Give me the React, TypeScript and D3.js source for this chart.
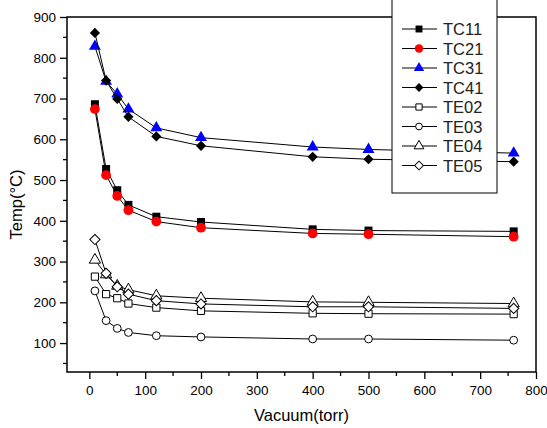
import React, { useEffect, useRef } from 'react';
import * as d3 from 'd3';

// vacuum levels (torr)
const vacuum = [10, 30, 50, 70, 120, 200, 400, 500, 760];

const seriesNames = ['TC11', 'TC21', 'TC31', 'TC41', 'TE02', 'TE03', 'TE04', 'TE05'];

const tc11 = [686, 527, 475, 439, 410, 397, 379, 376, 374];
const tc21 = [674, 512, 461, 426, 398, 383, 369, 367, 361];
const tc31 = [828, 742, 711, 674, 628, 604, 581, 575, 566];
const tc41 = [861, 744, 699, 655, 607, 584, 557, 551, 545];
const te02 = [263, 220, 210, 197, 187, 179, 173, 172, 171];
const te03 = [228, 155, 136, 126, 118, 115, 110, 110, 107];
const te04 = [304, 268, 240, 231, 216, 210, 201, 200, 197];
const te05 = [354, 271, 238, 220, 204, 196, 189, 189, 185];

const xTicks = [0, 100, 200, 300, 400, 500, 600, 700, 800];
const yTicks = [100, 200, 300, 400, 500, 600, 700, 800, 900];

const allSeries = [tc11, tc21, tc31, tc41, te02, te03, te04, te05];

// marker style per series (diamonds are squares turned 45deg)
const markers = [
  { shape: d3.symbolSquare, size: 64, fill: '#000', rot: 0 },
  { shape: d3.symbolCircle, size: 75, fill: '#ff0000', rot: 0 },
  { shape: d3.symbolTriangle, size: 62, fill: '#0000ff', rot: 0 },
  { shape: d3.symbolSquare, size: 52, fill: '#000', rot: 45 },
  { shape: d3.symbolSquare, size: 52, fill: '#fff', rot: 0 },
  { shape: d3.symbolCircle, size: 48, fill: '#fff', rot: 0 },
  { shape: d3.symbolTriangle, size: 55, fill: '#fff', rot: 0 },
  { shape: d3.symbolSquare, size: 52, fill: '#fff', rot: 45 },
];

const App = () => {
  const svgRef = useRef(null);

  useEffect(() => {
    const svg = d3.select(svgRef.current);
    svg.selectAll('*').remove();

    const left = 67, right = 536, top = 17, bottom = 372;
    const font = 'Arial, "Liberation Sans", sans-serif';

    const x = d3.scaleLinear().domain([-40, 800]).range([left, right]);
    const y = d3.scaleLinear().domain([29, 900]).range([bottom, top]);

    // frame
    svg.append('rect')
      .attr('x', left).attr('y', top)
      .attr('width', right - left).attr('height', bottom - top)
      .attr('fill', 'none').attr('stroke', '#000').attr('stroke-width', 1.5);

    // x axis
    const xAxis = svg.append('g').attr('transform', `translate(0,${bottom})`);
    xAxis.call(d3.axisBottom(x).tickValues(xTicks).tickSize(7).tickSizeOuter(0))
      .call(g => g.select('.domain').remove())
      .call(g => g.selectAll('line').attr('stroke-width', 1.3))
      .call(g => g.selectAll('text').attr('font-size', 13.5).attr('font-family', font).attr('dy', '0.95em').attr('fill', '#000'));
    xAxis.selectAll('.minor')
      .data(d3.range(50, 800, 100))
      .enter().append('line')
      .attr('x1', d => x(d)).attr('x2', d => x(d))
      .attr('y1', 0).attr('y2', 4)
      .attr('stroke', '#000').attr('stroke-width', 1.3);

    // y axis
    const yAxis = svg.append('g').attr('transform', `translate(${left},0)`);
    yAxis.call(d3.axisLeft(y).tickValues(yTicks).tickSize(7).tickSizeOuter(0))
      .call(g => g.select('.domain').remove())
      .call(g => g.selectAll('line').attr('stroke-width', 1.3))
      .call(g => g.selectAll('text').attr('font-size', 13.5).attr('font-family', font).attr('x', -11).attr('fill', '#000'));
    yAxis.selectAll('.minor')
      .data(d3.range(50, 900, 100))
      .enter().append('line')
      .attr('y1', d => y(d)).attr('y2', d => y(d))
      .attr('x1', 0).attr('x2', -4)
      .attr('stroke', '#000').attr('stroke-width', 1.3);

    // axis titles
    svg.append('text')
      .attr('x', (left + right) / 2).attr('y', 421)
      .attr('text-anchor', 'middle')
      .attr('font-size', 16.5).attr('font-family', font)
      .text('Vacuum(torr)');
    svg.append('text')
      .attr('transform', `translate(22,${(top + bottom) / 2 + 10}) rotate(-90)`)
      .attr('text-anchor', 'middle')
      .attr('font-size', 16.5).attr('font-family', font)
      .text('Temp(°C)');

    const line = d3.line()
      .x((d, i) => x(vacuum[i]))
      .y(d => y(d));

    allSeries.forEach((values, s) => {
      const m = markers[s];
      const g = svg.append('g');
      g.append('path')
        .attr('d', line(values))
        .attr('fill', 'none').attr('stroke', '#000').attr('stroke-width', 1);
      g.selectAll('path.pt')
        .data(values)
        .enter().append('path')
        .attr('class', 'pt')
        .attr('transform', (d, i) => `translate(${x(vacuum[i])},${y(d)}) rotate(${m.rot})`)
        .attr('d', d3.symbol().type(m.shape).size(m.size))
        .attr('fill', m.fill)
        .attr('stroke', m.fill === '#fff' ? '#000' : 'none')
        .attr('stroke-width', 1);
    });

    // legend
    const legend = svg.append('g');
    legend.append('rect')
      .attr('x', 392).attr('y', -2).attr('width', 105).attr('height', 195)
      .attr('fill', '#fff').attr('stroke', '#000').attr('stroke-width', 1);
    seriesNames.forEach((name, s) => {
      const m = markers[s];
      const ly = 29 + s * 19.5;
      legend.append('line')
        .attr('x1', 402).attr('x2', 437).attr('y1', ly).attr('y2', ly)
        .attr('stroke', '#000').attr('stroke-width', 1);
      legend.append('path')
        .attr('transform', `translate(419,${ly}) rotate(${m.rot})`)
        .attr('d', d3.symbol().type(m.shape).size(m.size * 0.75))
        .attr('fill', m.fill)
        .attr('stroke', m.fill === '#fff' ? '#000' : 'none');
      legend.append('text')
        .attr('x', 443).attr('y', ly + 6)
        .attr('font-size', 16.5).attr('font-family', font)
        .attr('fill', '#222')
        .text(name);
    });
  }, []);

  return (
    <svg ref={svgRef} width={547} height={428}
      style={{ position: 'absolute', left: 0, top: 0, background: '#fff' }} />
  );
};

export default App;
